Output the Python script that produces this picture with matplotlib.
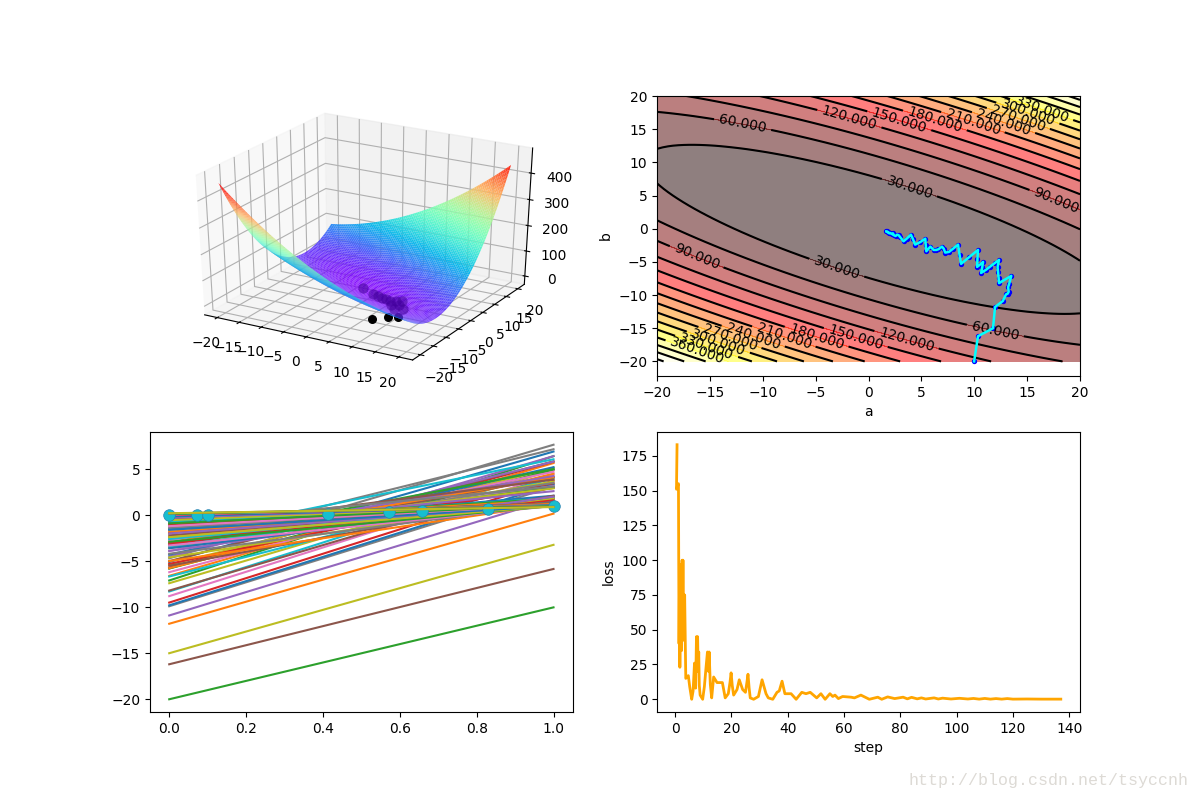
import matplotlib
matplotlib.use("Agg")
import matplotlib.pyplot as plt
import numpy as np
from mpl_toolkits.mplot3d import Axes3D

# sample points
x_data = [0.0, 0.073, 0.101, 0.413, 0.571, 0.657, 0.829, 1.0]
y_data = [0.0, 0.01, 0.01, 0.15, 0.31, 0.41, 0.67, 0.98]

# path of (a, b) during the descent
path_a = [9.98, 10.35, 11.77, 11.96, 12.7, 13.0, 13.15, 13.25, 13.2, 13.3, 13.5, 12.34, 12.3, 12.25, 12.2, 12.34,
          12.0, 11.5, 11.1, 10.64, 10.75, 10.83, 10.55, 10.26, 10.3, 10.35, 9.5, 8.75, 8.6, 8.46, 8.0, 7.6, 7.25, 7.1, 6.94, 6.6,
          6.4, 6.15, 5.84, 5.46, 5.4, 5.36, 4.9, 4.4, 4.2, 4.0, 3.6, 3.3, 3.0, 2.85, 2.7, 2.55,
          2.4, 2.3, 2.25, 2.05, 1.95, 1.85, 1.8, 1.72, 1.67]
path_b = [-20.0, -16.2, -15.0, -11.8, -10.9, -9.9, -9.8, -9.5, -8.8, -8.3, -7.1, -8.2, -7.4, -6.6, -5.8, -4.7,
          -5.1, -5.7, -6.2, -6.67, -5.8, -5.0, -5.4, -5.76, -4.5, -3.2, -4.3, -5.3, -3.9, -2.4, -3.0, -3.5, -3.6, -3.0, -2.7, -3.1,
          -3.2, -3.2, -2.7, -3.4, -2.4, -1.5, -2.0, -2.4, -1.6, -0.9, -1.5, -1.9, -1.3, -1.0, -0.9, -1.1,
          -1.0, -0.7, -0.85, -0.65, -0.7, -0.5, -0.55, -0.4, -0.4]
# other fits, only visible as lines
extra_a = [7.6, 6.4, 6.2, 5.9, 5.4, 5.0, 4.6, 4.3, 4.0, 3.9, 3.6, 3.4, 3.0, 3.1, 2.7, 2.6, 2.3, 2.3, 2.0, 2.0,
           1.7, 1.7, 1.4, 1.4, 1.15, 1.2, 1.0, 0.95, 0.85, 0.85, 0.72, 0.67]
extra_b = [-5.5, -4.6, -5.0, -3.9, -4.2, -3.6, -3.0, -3.3, -2.6, -2.9, -2.2, -2.4, -1.8, -2.0, -1.4, -1.6, -1.0, -1.2, -0.7, -0.9,
           -0.4, -0.55, -0.2, -0.3, -0.05, -0.15, 0.0, 0.05, 0.1, 0.12, 0.18, 0.2]

# dots of the 3D panel: the ones in front of the surface, the ones seen through it
front_a = [8.3, 10.4, 12.2]
front_b = [-12.4, -9.9, -9.4]
front_z = [0, 0, 0]
under_a = [-1.5, 1.95, 3.04, 4.33, 5.41, 6.5, 7.66, 8.63, 10.74, 9.36, 9.07, 7.96]
under_b = [0.9, -0.9, -1.2, -1.8, -2.1, -2.4, -2.1, -1.5, -5.0, -5.9, -3.6, -4.4]
under_z = [0, 0, 0, 0, 0, 0, 0, 0, 0, 0, 0, 0]

# loss curve
loss_step = [0.7, 0.5, 1.2, 1.3, 1.4, 1.6, 1.7, 1.9, 2.0, 2.2, 2.3, 2.5, 2.6, 2.8, 3.0, 3.1, 3.3, 3.4, 3.6, 3.8, 4.7, 5.2, 5.9, 6.4,
             6.9, 7.3, 7.6, 7.8, 8.0, 8.2, 8.4, 8.6, 8.9, 9.8, 10.4, 11.0, 11.5, 11.9, 12.1, 12.5, 13.0, 13.7, 14.9, 16.8, 17.8, 18.9, 19.5, 19.9, 20.3, 20.8, 22.0,
             22.8, 24.0, 25.0, 25.5, 25.9, 26.3, 26.7, 27.9, 29.6, 30.9, 31.6, 32.3, 33.1, 34.7, 36.2, 37.0, 38.0, 39.0, 41.2, 43.0,
             45.0, 46.5, 48.0, 50.3, 51.8, 53.3, 55.0, 56.0, 56.8, 58.0, 59.5, 62.5, 63.7, 66.0, 69.0, 72.0, 73.4, 75.5, 78.0, 81.0,
             82.5, 84.0, 86.0, 87.5, 89.0, 92.0, 93.5, 95.0, 98.0, 101.0, 104.0, 106.0, 108.0, 110.0, 112.0, 114.0, 116.0, 118.0, 120.0, 125.0, 130.0, 137.0]
loss_val = [183, 151, 155, 95, 40, 92, 23, 95, 45, 97, 35, 100, 42, 100, 45, 75, 45, 75, 45, 15, 17, 9, 0, 6,
            26, 8, 45, 20, 45, 20, 34, 10, 3, 0, 9, 23, 34, 20, 34, 11, 1, 16, 12, 12, 1, 4, 12, 19, 10, 3, 7,
            14, 7, 5, 12, 18, 8, 1, 0, 2, 14, 9, 4, 1, 0, 5, 6, 13, 4, 4, 0,
            5, 4, 5, 1, 4, 0, 4, 2, 3, 0.5, 2, 1.5, 1, 3, 0, 1.5, 0, 1.7, 0.5, 1.5,
            0.3, 1.4, 0.3, 1.0, 0.2, 1.0, 0.2, 0.8, 0.2, 0.7, 0.2, 0.6, 0.1, 0.6, 0.1, 0.5, 0.1, 0.5, 0.1, 0.2, 0.1, 0.1]

# contour label spots, on the level they name
label_spots = [(-11.9, 15.87), (-1.8, 16.74), (2.93, 16.43), (6.3, 16.47), (9.9, 16.2), (12.8, 16.15), (14.2, 16.77),
               (15.1, 17.58), (16.4, 18.1), (3.9, 6.36), (17.8, 4.42), (-16.25, -4.13), (-3.0, -5.8), (12.0, -15.27),
               (3.6, -16.65), (-1.2, -16.3), (-4.9, -16.17), (-8.0, -16.15), (-10.9, -16.1), (-13.1, -16.3),
               (-14.2, -17.0), (-15.3, -17.6), (-16.2, -18.3)]

x_arr = np.array(x_data)
y_arr = np.array(y_data)
a_grid = np.arange(-20, 20.5, 0.5)
b_grid = np.arange(-20, 20.5, 0.5)
A, B = np.meshgrid(a_grid, b_grid)
Z = 0.5 * np.mean((A[..., None] * x_arr + B[..., None] - y_arr) ** 2, axis=-1)

fig = plt.figure(figsize=(12, 8), dpi=100)

# 3D surface, stretched to fill its slot like old matplotlib did
ax1 = fig.add_subplot(2, 2, 1, projection="3d", computed_zorder=False)
slot = ax1.get_position(original=True).frozen()
ax1.apply_aspect = lambda position=None: ax1._set_position(slot, "active")
ax1.set_box_aspect((1, 1, 1), zoom=0.955)
ax1.scatter(front_a, front_b, front_z, c="black", s=30, depthshade=False, zorder=1)
ax1.plot_surface(A, B, Z, rstride=1, cstride=1, cmap="rainbow", alpha=0.95, linewidth=0, zorder=2)
ax1.scatter(under_a, under_b, under_z, c="#42009c", s=55, alpha=0.55, linewidths=0, depthshade=False, zorder=3)
ax1.view_init(30, -60)
ax1.set_xticks(np.arange(-20, 25, 5))
ax1.set_yticks(np.arange(-20, 25, 5))
ax1.set_zticks(np.arange(0, 500, 100))

# contour with the path
ax2 = fig.add_subplot(2, 2, 2)
levels = np.arange(0, 480, 30)
ax2.contourf(A, B, Z, levels, cmap="hot", alpha=0.5)
ax2.contour(A, B, Z, levels, cmap="hot", linewidths=0.6, alpha=0.5)
cs = ax2.contour(A, B, Z, levels, colors="black", linewidths=1.5)
ax2.clabel(cs, inline=True, fontsize=10, fmt="%1.3f", manual=label_spots)
ax2.scatter(path_a, path_b, c="blue", s=8, zorder=3)
ax2.plot(path_a, path_b, c="cyan", lw=1.8, zorder=4)
ax2.set_xlim(-20, 20)
ax2.set_ylim(-22.2, 20)
ax2.set_xlabel("a")
ax2.set_ylabel("b")

# fitted lines
ax3 = fig.add_subplot(2, 2, 3)
fit_a = path_a + extra_a
fit_b = path_b + extra_b
cycle = plt.rcParams["axes.prop_cycle"].by_key()["color"]
n_last = 2
for i, (a, b) in enumerate(zip(fit_a, fit_b)):
    z = 4 if i >= len(fit_a) - n_last else 2
    ax3.plot([0, 1], [b, a + b], color=cycle[(2 + 3 * i) % 10], zorder=z)
ax3.scatter(x_data, y_data, c="#17becf", s=70, edgecolors="#2a7fb0", linewidths=0.5, zorder=3)

# loss curve
ax4 = fig.add_subplot(2, 2, 4)
ax4.plot(loss_step, loss_val, c="orange", lw=2)
ax4.set_xlabel("step")
ax4.set_ylabel("loss")

fig.text(0.99, 0.0245, "http://blog.csdn.net/tsyccnh", ha="right", va="center", fontsize=12,
         family="Liberation Mono", color="#dddad5")

fig.savefig("out.png", dpi=100)
